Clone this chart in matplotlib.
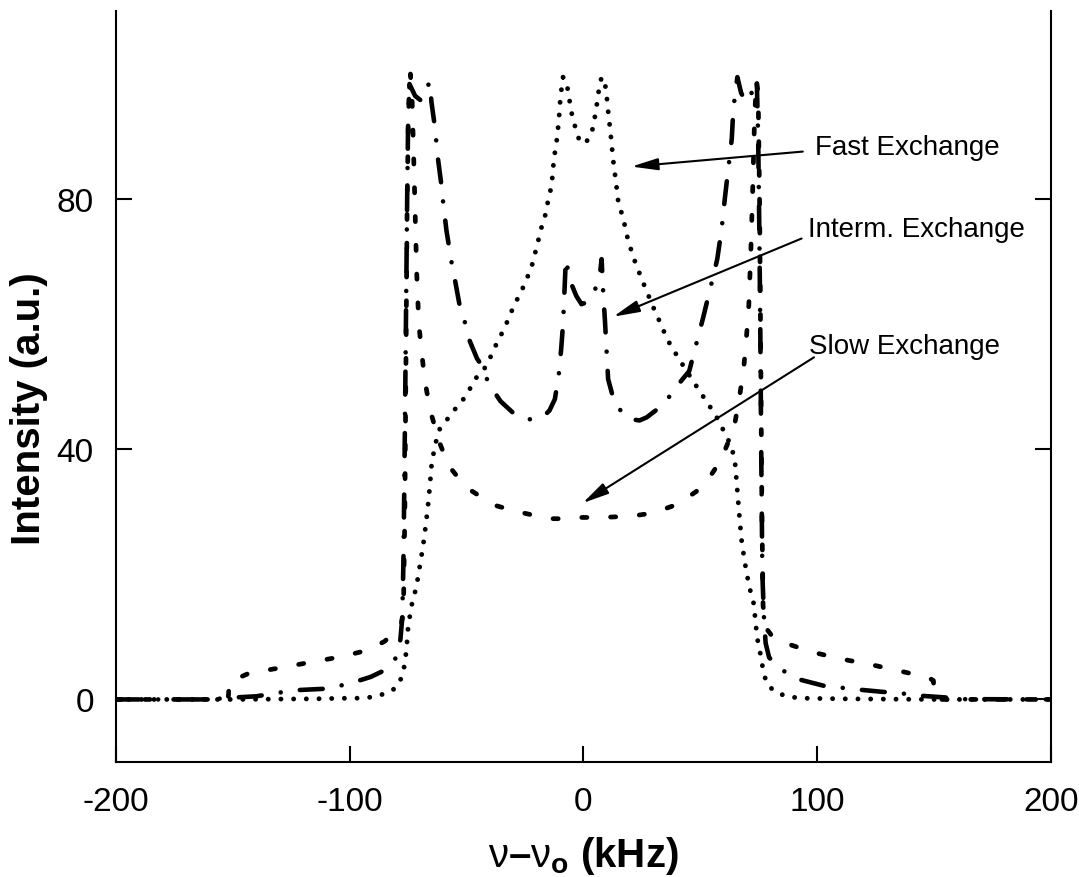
import matplotlib
matplotlib.use('Agg')
import matplotlib.pyplot as plt

plt.rcParams['font.family'] = ['Liberation Sans', 'DejaVu Sans']
plt.rcParams['axes.unicode_minus'] = False
plt.rcParams['mathtext.fontset'] = 'custom'
plt.rcParams['mathtext.rm'] = 'Liberation Sans'
plt.rcParams['mathtext.it'] = 'Liberation Sans'
plt.rcParams['mathtext.bf'] = 'Liberation Sans:bold'

# Fast exchange (dotted)
fast_x = [-200, -150, -115, -100, -94, -88.6, -83.6, -80, -77.8, -76.5, -75.7, -75, -73.6, -71.4,
          -70, -68.6, -67.5, -66.5, -65.7, -65, -63.6, -61.5, -57.2, -54.3, -50.7, -45.7, -41.5,
          -37.9, -33.6, -30, -25.5, -22.2, -20, -17.9, -16.5, -14.8, -13.6, -12.6, -11.2, -10.4,
          -9.8, -8.7, -7.2, -6.5, -5.8, -5.1, -4.1, -1.5, 0, 1.5, 2.8, 4.2, 5.6, 6.8, 7.8, 9.2,
          10.2, 10.6, 11.6, 12.8, 13.9, 14.9, 17.3, 19.2, 22, 25.3, 30.6, 32.8, 36, 40, 44.2, 47,
          49.9, 52.8, 55.6, 58.2, 60.2, 62.4, 63.9, 64.9, 65.6, 66.3, 67, 67.8, 69.8, 71.3, 72.8,
          73.6, 74.3, 75.9, 77, 78.5, 82, 87, 92.7, 110, 150, 200]
fast_y = [0, 0, 0.1, 0.2, 0.2, 0.5, 1.1, 1.9, 3.5, 5.5, 8, 11.5, 14.9, 18.1,
          21.3, 24.5, 27.7, 30.9, 34.1, 37.3, 40.5, 43.2, 45.3, 46.7, 48.3, 51.5, 53.3,
          56.3, 59.5, 62.7, 66.1, 69.1, 72.3, 75.5, 77.1, 80.3, 82.1, 86.4, 89.9, 93.1,
          96.3, 99.5, 98.7, 97.1, 95.5, 93.9, 92.3, 89.1, 88.9, 89.3, 89.9, 91.5, 94.7, 97.9, 99.5, 98.7,
          95.7, 94.1, 90.7, 86.1, 82.9, 79.7, 76.5, 73.3, 70.1, 66.9, 62.1, 60.3, 57.5, 55, 52.5, 50.9,
          49.2, 47.6, 46, 44.4, 42.8, 41.2, 39.6, 37.9, 34.7, 31.5, 28.3, 25.1, 20.3, 17.6, 15.5,
          12.8, 10, 7.0, 4.5, 2.5, 1.2, 0.5, 0.2, 0.1, 0, 0]

# Intermediate exchange (dash-dot)
interm_x = [-200, -160, -150, -140, -130, -122, -111, -104, -97, -91, -86, -82, -79.5, -78.3,
            -77.5, -77, -76.6, -76.2, -75.8, -75.4, -75, -74.4, -72, -69.3, -67.5, -65.7, -65,
            -63.6, -62.2, -60.7, -60, -58.6, -56.4, -55, -52.9, -50.7, -48.6, -45.5, -42.9, -40.8,
            -35.5, -30, -24.3, -20, -17.2, -14.5, -12.2, -10.5, -9.5, -8.7, -8, -7.5, -6.5, -5.2,
            -3, -0.8, 1.5, 4.2, 6, 7.1, 7.8, 8.5, 9.2, 10.6, 13.5, 19.2, 24, 27.1, 32, 37, 42,
            45.3, 49.2, 51.3, 53.5, 55.6, 57.3, 59.2, 60.6, 62, 63.5, 64.2, 65.9, 67.5, 69.5,
            71.5, 74.2, 74.8, 75.3, 75.7, 76.1, 76.6, 77.3, 78, 79.5, 84.2, 91.3, 102.7, 109.9,
            117, 128.4, 135.5, 144, 155.5, 162, 200]
interm_y = [0, 0, 0.3, 0.5, 1.1, 1.5, 1.7, 2.2, 2.9, 3.6, 4.5, 5.8, 7, 9.6,
            13, 22, 35, 50, 65, 80, 92, 98.4, 96.5, 95.7, 97.5, 98.7, 95.5,
            91.7, 86.4, 82.1, 79.5, 75, 69.9, 67.2, 62.9, 60.3, 57.3, 54.5, 53.1, 50.7,
            47.7, 45.8, 44.8, 44.8, 45.2, 46.2, 48, 52, 56, 60, 66, 70.4, 68.5, 66.5,
            64.5, 63.2, 63.5, 64.8, 66.5, 68, 70.4, 65, 60.8, 51.2, 47.2, 44.9, 44.6, 45.1, 46.5, 48.5, 51,
            52.5, 58.1, 61.1, 64.5, 67.7, 70.4, 75.3, 80.3, 84.8, 89.6, 94.5, 99.5, 97, 95.5,
            96.5, 99.2, 90, 75, 60, 40, 20, 13, 9, 6.7, 4.9, 3.3, 2.2, 1.9,
            1.6, 1.2, 1.0, 0.6, 0.3, 0.05, 0]

# Slow exchange (short dashes)
slow_x = [-200, -152, -151.5, -143, -129, -116, -104, -92, -85, -80.7, -78, -77, -76.4, -75.9,
          -75.4, -74.8, -74, -73.3, -72.7, -72, -71.3, -70.4, -69.2, -67.9, -65.7, -61.5, -57.5,
          -53, -48.9, -43, -37.5, -31, -25.5, -19.5, -13.6, -8, -2.7, 2.5, 8.2, 14, 20.2, 26, 32,
          38, 43.5, 48.5, 53.4, 57, 60.2, 62.7, 64.9, 67, 68.7, 69.8, 70.8, 71.7, 72.5, 73.2, 74,
          74.8, 75.4, 75.9, 76.4, 76.9, 78, 81, 84.9, 97.7, 109.9, 122.7, 134.8, 147.7, 149.8,
          150.3, 200]
slow_y = [0, 0, 2.8, 4.2, 5.1, 6.0, 6.8, 7.9, 9.3, 10.8, 12, 14, 30, 55,
          80, 95, 100, 96, 88, 78, 68, 60, 55.5, 51.2, 46.4, 41, 37.3,
          35.2, 33.6, 32.2, 31, 30.3, 29.8, 29.3, 28.9, 28.9, 29.1, 29.1, 29.1, 29.2, 29.3, 29.6, 30.1,
          30.9, 32, 33.3, 35.2, 37.2, 39.5, 41.8, 44.3, 48.8, 53.3, 58, 63, 72, 82, 92, 99,
          97, 80, 55, 30, 15, 11.5, 10, 9.2, 7.6, 6.5, 5.6, 4.6, 3.5, 3.0,
          0, 0]

fig = plt.figure(figsize=(10.79, 8.78), dpi=100)
ax = fig.add_axes([0.1075, 0.131, 0.8663, 0.8548])

ax.plot(fast_x, fast_y, color='black', lw=3.5, linestyle=(0, (0.01, 2.6)),
        dash_capstyle='round')
ax.plot(interm_x, interm_y, color='black', lw=3.3, linestyle=(0, (5.0, 4.2, 0.01, 4.2)),
        dash_capstyle='round')
ax.plot(slow_x, slow_y, color='black', lw=3.4, linestyle=(0, (1.1, 5.0)),
        dash_capstyle='round')

ax.set_xlim(-200, 200)
ax.set_ylim(-10, 110)
ax.set_xticks([-200, -100, 0, 100, 200])
ax.set_yticks([0, 40, 80])
ax.tick_params(direction='in', length=11.5, width=1.5, labelsize=24, right=True, top=False)
ax.tick_params(axis='x', pad=17)
ax.tick_params(axis='y', pad=16)
ax.spines['top'].set_visible(False)
for s in ['left', 'right', 'bottom']:
    ax.spines[s].set_linewidth(1.5)

ax.set_ylabel('Intensity (a.u.)', fontsize=29, fontweight='bold', va='center')
ax.yaxis.set_label_coords(-0.093, 0.472)
ax.set_xlabel(r'$\nu$–$\nu_{\mathbf{o}}$ (kHz)', fontsize=29, fontweight='bold', va='top')
ax.xaxis.set_label_coords(0.5, -0.096)

# annotations
arrow = dict(arrowstyle='-|>,head_length=0.8,head_width=0.18', color='black', lw=1.5,
             mutation_scale=20, shrinkA=0, shrinkB=0)
ax.annotate('', xy=(20.6, 85.2), xytext=(93.9, 87.6), arrowprops=arrow)
ax.annotate('', xy=(12.8, 61.2), xytext=(93.4, 73.7), arrowprops=arrow)
ax.annotate('', xy=(-0.3, 31.4), xytext=(98.7, 54.7), arrowprops=arrow)
ax.text(99.1, 88.3, 'Fast Exchange', fontsize=20, ha='left', va='center')
ax.text(96.3, 75.2, 'Interm. Exchange', fontsize=20, ha='left', va='center')
ax.text(96.6, 56.5, 'Slow Exchange', fontsize=20, ha='left', va='center')

fig.savefig('out.png', dpi=100)
